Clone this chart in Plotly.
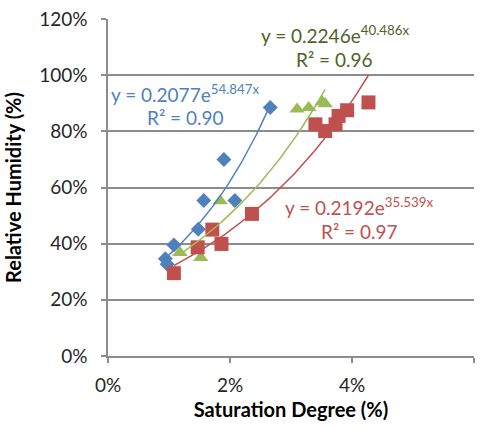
import numpy as np
import plotly.graph_objects as go

# Saturation degree (fraction) vs relative humidity (fraction) for three sample sets
blue_x = [0.0094, 0.0097, 0.0108, 0.0148, 0.0157, 0.0190, 0.0208, 0.0266]
blue_y = [0.346, 0.327, 0.395, 0.451, 0.554, 0.700, 0.554, 0.885]

green_x = [0.0118, 0.0152, 0.0184, 0.0310, 0.0329, 0.0351, 0.0356]
green_y = [0.368, 0.350, 0.552, 0.879, 0.884, 0.905, 0.898]

red_x = [0.0108, 0.0147, 0.0171, 0.0186, 0.0236, 0.0340, 0.0356, 0.0373, 0.0378, 0.0392, 0.0427]
red_y = [0.295, 0.387, 0.450, 0.399, 0.506, 0.825, 0.801, 0.825, 0.855, 0.875, 0.903]

# Exponential trendline fits: y = a * exp(b * x)
blue_fit = (0.2077, 54.847, 0.90)
green_fit = (0.2246, 40.486, 0.96)
red_fit = (0.2192, 35.539, 0.97)

x_ticks = [0, 0.02, 0.04, 0.06]
y_ticks = [0, 0.2, 0.4, 0.6, 0.8, 1.0, 1.2]

BLUE = "#4F81BD"
GREEN = "#9BBB59"
GREEN_TXT = "#4F6228"
RED = "#C0504D"
FONT = "Lato"

fig = go.Figure()


def trend(xs, fit):
    xx = np.linspace(min(xs), max(xs), 80)
    return xx, fit[0] * np.exp(fit[1] * xx)


series = [
    (blue_x, blue_y, blue_fit, BLUE, "diamond", 11.5),
    (green_x, green_y, green_fit, GREEN, "triangle-up", 13.5),
    (red_x, red_y, red_fit, RED, "square", 14),
]

for xs, ys, fit, col, sym, size in series:
    fig.add_trace(go.Scatter(x=xs, y=ys, mode="markers",
                             marker=dict(symbol=sym, size=size, color=col,
                                         line=dict(width=0)),
                             showlegend=False))

for xs, ys, fit, col, sym, size in series:
    tx, ty = trend(xs, fit)
    fig.add_trace(go.Scatter(x=tx, y=ty, mode="lines",
                             line=dict(color=col, width=1.5),
                             showlegend=False, hoverinfo="skip"))


def eq_labels(fit, x, y_eq, y_r2, col):
    a, b, r2 = fit
    fig.add_annotation(x=x, y=y_eq, xref="x", yref="y", showarrow=False,
                       text=f"y = {a:.4f}e<sup>{b:.3f}x</sup>",
                       font=dict(family=FONT, size=19, color=col))
    fig.add_annotation(x=x, y=y_r2, xref="x", yref="y", showarrow=False,
                       text=f"R² = {r2:.2f}",
                       font=dict(family=FONT, size=19, color=col))


eq_labels(blue_fit, 0.0127, 0.935, 0.850, BLUE)
eq_labels(green_fit, 0.0372, 1.145, 1.057, GREEN_TXT)
eq_labels(red_fit, 0.0412, 0.533, 0.444, RED)

grid = "#8C8C8C"
fig.update_xaxes(range=[0, 0.06], tickvals=x_ticks, tickformat=".0%",
                 showgrid=False, zeroline=False, automargin=False,
                 showline=True, linecolor=grid, linewidth=1.5,
                 ticks="outside", ticklen=5, tickcolor=grid, tickwidth=1.5,
                 ticklabelstandoff=6,
                 tickfont=dict(family=FONT, size=19, color="#262626"),
                 title=dict(text="<b>Saturation Degree (%)</b>", standoff=8,
                            font=dict(family=FONT, size=20, color="#000000")))
fig.update_yaxes(range=[0, 1.2], tickvals=y_ticks, tickformat=".0%",
                 showgrid=True, gridcolor=grid, gridwidth=1.5, zeroline=False,
                 automargin=False,
                 showline=True, linecolor=grid, linewidth=1.5,
                 ticks="outside", ticklen=5, tickcolor=grid, tickwidth=1.5,
                 ticklabelstandoff=10,
                 tickfont=dict(family=FONT, size=19, color="#262626"),
                 title=dict(text="<b>Relative Humidity (%)</b>", standoff=12,
                            font=dict(family=FONT, size=20, color="#000000")))

fig.update_layout(width=487, height=428,
                  margin=dict(l=108, r=13, t=19, b=72),
                  plot_bgcolor="white", paper_bgcolor="white")

fig.write_html("out.html")
